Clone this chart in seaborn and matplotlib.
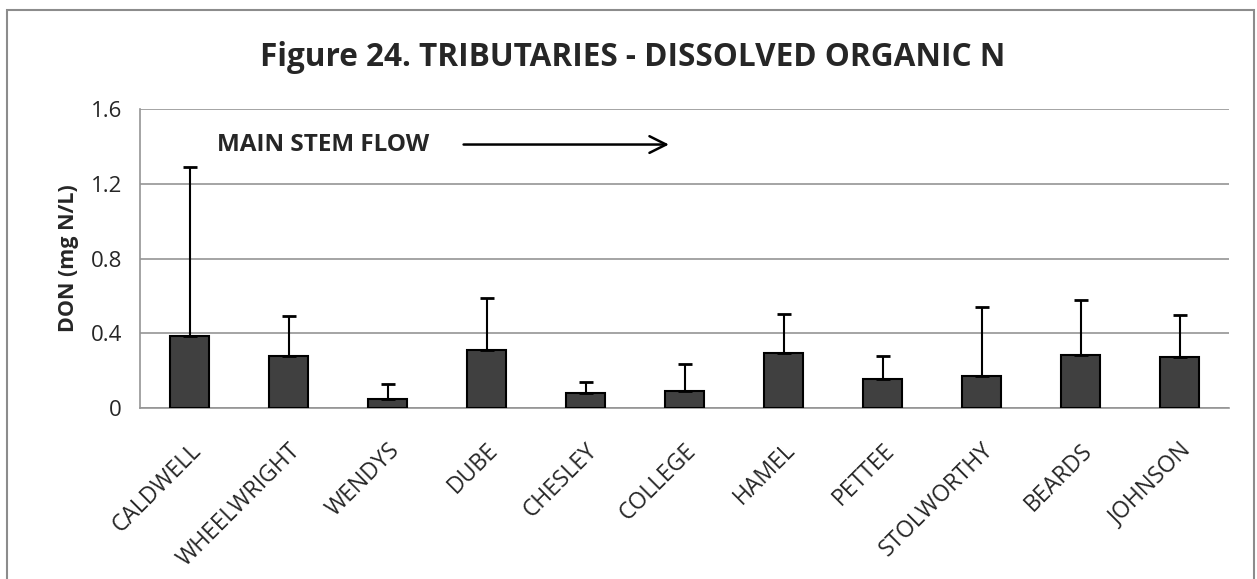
import matplotlib
matplotlib.use("Agg")
import matplotlib.pyplot as plt
import numpy as np
import pandas as pd
import seaborn as sns
from matplotlib.patches import Rectangle

# values
sites = ['CALDWELL', 'WHEELWRIGHT', 'WENDYS', 'DUBE', 'CHESLEY', 'COLLEGE',
         'HAMEL', 'PETTEE', 'STOLWORTHY', 'BEARDS', 'JOHNSON']
don_mean = [0.387, 0.278, 0.048, 0.312, 0.078, 0.093, 0.292, 0.153, 0.171, 0.282, 0.273]
don_upper = [1.292, 0.492, 0.127, 0.590, 0.137, 0.237, 0.504, 0.278, 0.540, 0.576, 0.499]
yticks = [0, 0.4, 0.8, 1.2, 1.6]

df = pd.DataFrame({'site': sites, 'DON': don_mean})
err_plus = np.array(don_upper) - np.array(don_mean)

sns.set_style('white')
plt.rcParams['font.family'] = ['Open Sans', 'DejaVu Sans']

fig = plt.figure(figsize=(12.57, 5.79), dpi=100)
ax = fig.add_axes([0.1114, 0.2953, 0.8664, 0.5164])

sns.barplot(data=df, x='site', y='DON', ax=ax, color='#404040', width=0.4,
            edgecolor='black', linewidth=1.5, saturation=1, zorder=3)
ax.errorbar(np.arange(len(sites)), don_mean, yerr=[np.zeros(len(sites)), err_plus],
            fmt='none', ecolor='black', elinewidth=1.5, capsize=5, capthick=2, zorder=4)

ax.set_ylim(0, 1.6)
ax.set_xlim(-0.5, len(sites) - 0.5)
ax.set_yticks(yticks)
ax.set_yticklabels(['0', '0.4', '0.8', '1.2', '1.6'], fontsize=16)
ax.yaxis.grid(True, color='#959595', linewidth=1.2, zorder=0)
ax.set_axisbelow(True)

# category ticks sit between the bars
ax.set_xticks(np.arange(len(sites)))
ax.set_xticklabels(sites, rotation=45, ha='right', rotation_mode='anchor', fontsize=16.5)
ax.tick_params(axis='x', length=0, pad=22)
ax.set_xticks(np.arange(-0.5, len(sites)), minor=True)
ax.tick_params(axis='x', which='minor', length=7, color='#959595', width=1.2)
ax.tick_params(axis='y', length=7, color='#959595', width=1.2, pad=6)

for side in ['top', 'right']:
    ax.spines[side].set_visible(False)
for side in ['left', 'bottom']:
    ax.spines[side].set_color('#959595')
    ax.spines[side].set_linewidth(1.2)

ax.set_xlabel('')
ax.set_ylabel('DON (mg N/L)', fontsize=15.5, fontweight='bold', labelpad=8)

fig.text(0.503, 0.9, 'Figure 24. TRIBUTARIES - DISSOLVED ORGANIC N',
         ha='center', va='center', fontsize=22.7, fontweight='bold')

ax.text(1.35, 1.41, 'MAIN STEM FLOW', ha='center', va='center',
        fontsize=17.5, fontweight='bold')
ax.annotate('', xy=(4.87, 1.41), xytext=(2.74, 1.41),
            arrowprops=dict(arrowstyle='->', color='black', lw=1.8, mutation_scale=30))

fig.patches.append(Rectangle((7 / 1257, -0.05), 1247 / 1257, 1.05 - 10 / 579,
                             transform=fig.transFigure, fill=False,
                             edgecolor='#8c8c8c', linewidth=1.5))

fig.savefig('out.png', dpi=100)
